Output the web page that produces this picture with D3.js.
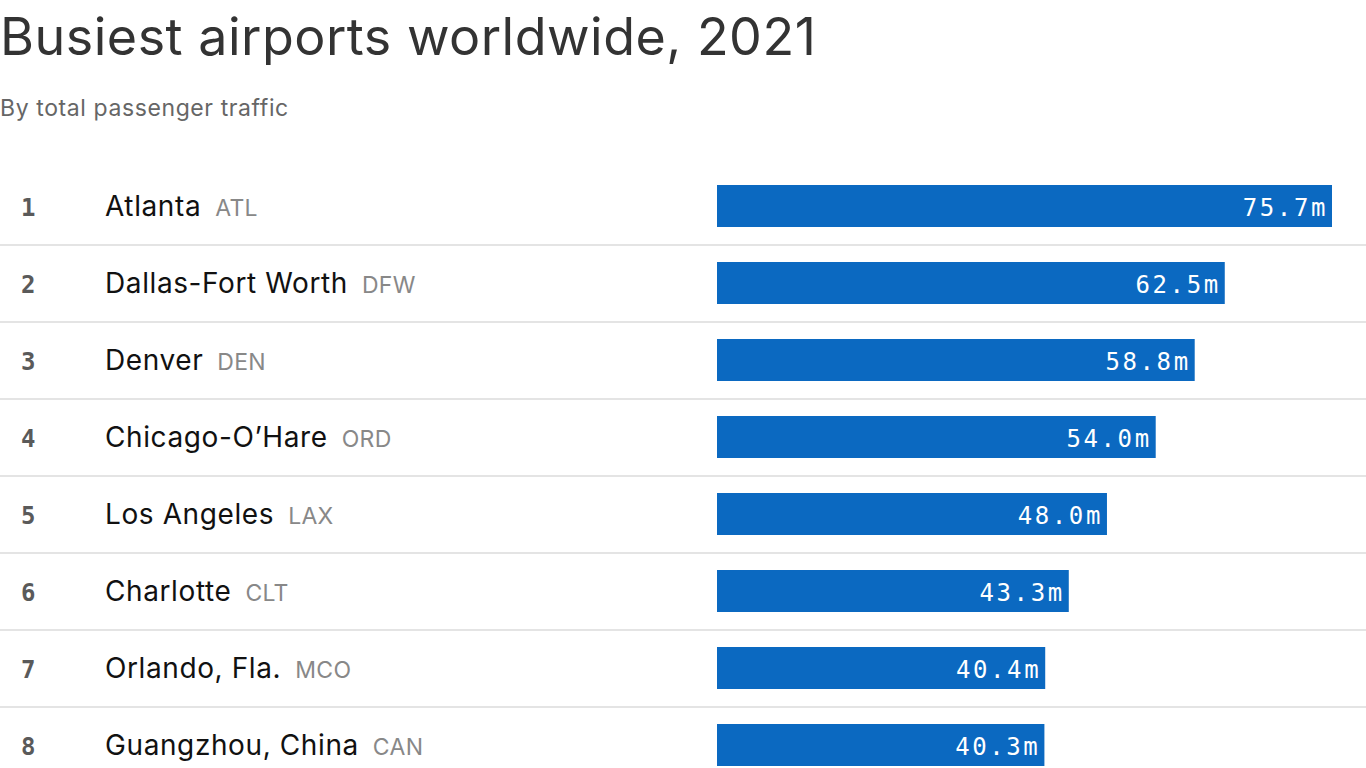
<!DOCTYPE html>
<html><head><meta charset="utf-8">
<script src="https://cdn.jsdelivr.net/npm/d3@7"></script>
<style>
html,body{margin:0;padding:0;background:#fff;}
svg{display:block;}
</style></head>
<body>
<svg id="chart" width="1366" height="768"></svg>
<script>
const ranks = [1,2,3,4,5,6,7,8];
const cities = ["Atlanta","Dallas-Fort Worth","Denver","Chicago-O\u2019Hare","Los Angeles","Charlotte","Orlando, Fla.","Guangzhou, China"];
const codes = ["ATL","DFW","DEN","ORD","LAX","CLT","MCO","CAN"];
const passengers = [75.7,62.5,58.8,54.0,48.0,43.3,40.4,40.3];
const titleText = "Busiest airports worldwide, 2021";
const subtitleText = "By total passenger traffic";

const svg = d3.select("#chart");
const W = 1366;

svg.append("text").attr("x",0).attr("y",55)
  .attr("font-family","Inter, 'Noto Sans', sans-serif").attr("font-size",52)
  .attr("letter-spacing",0.5)
  .attr("fill","#333").text(titleText);
svg.append("text").attr("x",0).attr("y",116)
  .attr("font-family","Inter, 'Noto Sans', sans-serif").attr("font-size",23)
  .attr("letter-spacing",0.6)
  .attr("fill","#666").text(subtitleText);

const y = d3.scaleBand().domain(ranks).range([168, 168 + 77*8]).paddingInner(0).paddingOuter(0);
const x = d3.scaleLinear().domain([0, 75.7]).range([717, 1332]);

const rows = svg.append("g").selectAll("g").data(ranks).join("g")
  .attr("transform", d => `translate(0,${y(d)})`);

const rh = y.bandwidth();
const barH = 42;

rows.append("rect")
  .attr("x", x(0)).attr("y", (rh - barH)/2 - 0.5)
  .attr("width", (d,i) => x(passengers[i]) - x(0))
  .attr("height", barH).attr("fill","#0b69c1");

rows.append("text").attr("x", (d,i) => x(passengers[i]) - 4).attr("y", rh/2 + 9)
  .attr("text-anchor","end")
  .attr("font-family","'DejaVu Sans Mono', monospace").attr("font-size",24)
  .attr("letter-spacing",2.6)
  .attr("fill","#fff").text((d,i) => passengers[i].toFixed(1) + "m");

rows.append("text").attr("x", 21).attr("y", rh/2 + 9)
  .attr("font-family","'DejaVu Sans Mono', monospace").attr("font-size",24).attr("font-weight","bold")
  .attr("fill","#5a5a5a").text(d => d);

const nameT = rows.append("text").attr("x",105).attr("y", rh/2 + 9)
  .attr("font-family","Inter, sans-serif").attr("font-size",28)
  .attr("letter-spacing",0.6)
  .attr("fill","#111");
nameT.append("tspan").text((d,i) => cities[i]);
nameT.append("tspan").attr("dx",14).attr("font-size",23).attr("letter-spacing",0.3).attr("fill","#888").text((d,i) => codes[i]);

rows.filter((d,i) => i < ranks.length - 1).append("line")
  .attr("x1",0).attr("x2",W).attr("y1", rh).attr("y2", rh)
  .attr("stroke","#e4e4e4").attr("stroke-width",2);
</script>
</body></html>
